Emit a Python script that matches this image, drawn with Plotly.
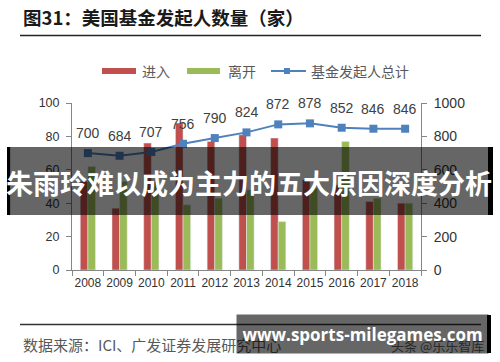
import plotly.graph_objects as go

years = [2008, 2009, 2010, 2011, 2012, 2013, 2014, 2015, 2016, 2017, 2018]
enter = [53, 37, 76, 88, 77, 81, 79, 54, 51, 41, 40]
leave = [62, 53, 53, 39, 43, 48, 29, 49, 77, 43, 40]
total = [700, 684, 707, 756, 790, 824, 872, 878, 852, 846, 846]
left_ticks = [0, 20, 40, 60, 80, 100]
right_ticks = [0, 200, 400, 600, 800, 1000]

W, H = 500, 362
L, R, T, B = 72, 79, 103, 92
PW, PH = W - L - R, H - T - B


def xp(px):
    return (px - L) / PW


def yp(py):
    return (H - B - py) / PH


RED = "#C0504D"
GREEN = "#9BBB59"
BLUE = "#4F81BD"
CJK = "Noto Sans CJK SC"
NUM = "Liberation Sans, Arial, sans-serif"

fig = go.Figure()
fig.add_trace(go.Bar(x=years, y=enter, name="进入", marker_color=RED))
fig.add_trace(go.Bar(x=years, y=leave, name="离开", marker_color=GREEN))
fig.add_trace(go.Scatter(x=years, y=total, name="基金发起人总计", yaxis="y2",
                         mode="lines+markers",
                         line=dict(color=BLUE, width=2),
                         marker=dict(symbol="square", size=8, color=BLUE)))

annotations = []
for yr, v in zip(years, total):
    annotations.append(dict(x=yr, y=v, xref="x", yref="y2", text=str(v), showarrow=False,
                            yshift=20, font=dict(family=NUM, size=14, color="#404040")))

# title
annotations.append(dict(x=xp(21), y=yp(17), xref="paper", yref="paper", xanchor="left", yanchor="middle",
                        text="<b>图31：美国基金发起人数量（家）</b>", showarrow=False,
                        font=dict(family=CJK, size=18.5, color="#1a1a1a")))

# legend texts
for txt, px in [("进入", 140), ("离开", 226), ("基金发起人总计", 309)]:
    annotations.append(dict(x=xp(px), y=yp(71), xref="paper", yref="paper", xanchor="left", yanchor="middle",
                            text=txt, showarrow=False, font=dict(family=CJK, size=14, color="#595959")))

# source
annotations.append(dict(x=xp(21), y=yp(344), xref="paper", yref="paper", xanchor="left", yanchor="middle",
                        text="数据来源：ICI、广发证券发展研究中心", showarrow=False,
                        font=dict(family=CJK, size=15, color="#595959")))
annotations.append(dict(x=xp(438), y=yp(345), xref="paper", yref="paper", xanchor="center", yanchor="middle",
                        text="头条 @乐乐智库", showarrow=False,
                        font=dict(family=CJK, size=13, color="#666666")))
# watermark box
annotations.append(dict(x=xp(236), y=yp(334), xref="paper", yref="paper", xanchor="left", yanchor="middle",
                        text="<b>www.sports-milegames.com</b>", showarrow=False,
                        width=251, height=38, borderpad=0, bgcolor="rgba(0,0,0,0.6)", align="center",
                        font=dict(family="Open Sans, Noto Sans, sans-serif", size=17, color="white")))
# banner text
annotations.append(dict(x=xp(249), y=yp(182), xref="paper", yref="paper", xanchor="center", yanchor="middle",
                        text="<b>朱雨玲难以成为主力的五大原因深度分析</b>", showarrow=False,
                        font=dict(family=CJK, size=27, color="white")))

shapes = [
    dict(type="line", xref="paper", yref="paper", x0=xp(20), x1=xp(481), y0=yp(35.5), y1=yp(35.5),
         line=dict(color="#222222", width=1.5)),
    dict(type="line", xref="paper", yref="paper", x0=xp(20), x1=xp(481), y0=yp(324.5), y1=yp(324.5),
         line=dict(color="#333333", width=1.5)),
    dict(type="rect", xref="paper", yref="paper", x0=xp(102), x1=xp(136), y0=yp(74), y1=yp(68),
         fillcolor=RED, line=dict(width=0)),
    dict(type="rect", xref="paper", yref="paper", x0=xp(187), x1=xp(220), y0=yp(74), y1=yp(68),
         fillcolor=GREEN, line=dict(width=0)),
    dict(type="line", xref="paper", yref="paper", x0=xp(271), x1=xp(306), y0=yp(71), y1=yp(71),
         line=dict(color=BLUE, width=2)),
    dict(type="rect", xref="paper", yref="paper", x0=xp(284), x1=xp(290), y0=yp(74), y1=yp(68),
         fillcolor=BLUE, line=dict(width=0)),
    dict(type="rect", xref="paper", yref="paper", x0=xp(10.5), x1=xp(488), y0=yp(215), y1=yp(147),
         fillcolor="rgba(0,0,0,0.6)", line=dict(width=0), layer="above"),
    dict(type="rect", xref="paper", yref="paper", x0=xp(7), x1=xp(10.5), y0=yp(215), y1=yp(147),
         fillcolor="black", line=dict(width=0), layer="above"),
    dict(type="rect", xref="paper", yref="paper", x0=xp(488), x1=xp(493), y0=yp(215), y1=yp(147),
         fillcolor="black", line=dict(width=0), layer="above"),
    dict(type="rect", xref="paper", yref="paper", x0=xp(487), x1=xp(491), y0=yp(353), y1=yp(315),
         fillcolor="black", line=dict(width=0), layer="above"),
]

axis_color = "#868686"
fig.update_layout(
    width=W, height=H,
    margin=dict(l=L, r=R, t=T, b=B, pad=0, autoexpand=False),
    paper_bgcolor="white", plot_bgcolor="white",
    showlegend=False,
    hovermode=False,
    barmode="group", bargap=0.52, bargroupgap=0,
    xaxis=dict(type="linear", range=[years[0] - 0.5, years[-1] + 0.5],
               tickvals=years, ticktext=[str(y) for y in years], ticks="",
               minor=dict(ticks="outside", tick0=years[0] - 0.5, dtick=1, ticklen=5,
                          tickcolor=axis_color, showgrid=False),
               showline=True, linecolor=axis_color, linewidth=1,
               showgrid=False, zeroline=False, tickangle=0, automargin=False,
               ticklabelstandoff=2,
               tickfont=dict(family=NUM, size=12, color="#333333")),
    yaxis=dict(range=[0, 100], tickvals=left_ticks, showline=True, linecolor=axis_color, linewidth=1,
               ticks="outside", ticklen=5, tickcolor=axis_color, showgrid=False, zeroline=False,
               ticklabelstandoff=4, automargin=False,
               tickfont=dict(family=NUM, size=12.5, color="#333333")),
    yaxis2=dict(range=[0, 1000], tickvals=right_ticks, overlaying="y", side="right",
                showline=True, linecolor=axis_color, linewidth=1,
                ticks="outside", ticklen=5, tickcolor=axis_color, showgrid=False, zeroline=False,
                ticklabelstandoff=4, automargin=False,
                tickfont=dict(family=NUM, size=14, color="#333333")),
    annotations=annotations,
    shapes=shapes,
)

fig.write_html("out.html", config={"displayModeBar": False, "staticPlot": True},
               post_script="document.body.style.margin='0';document.body.style.padding='0';")
